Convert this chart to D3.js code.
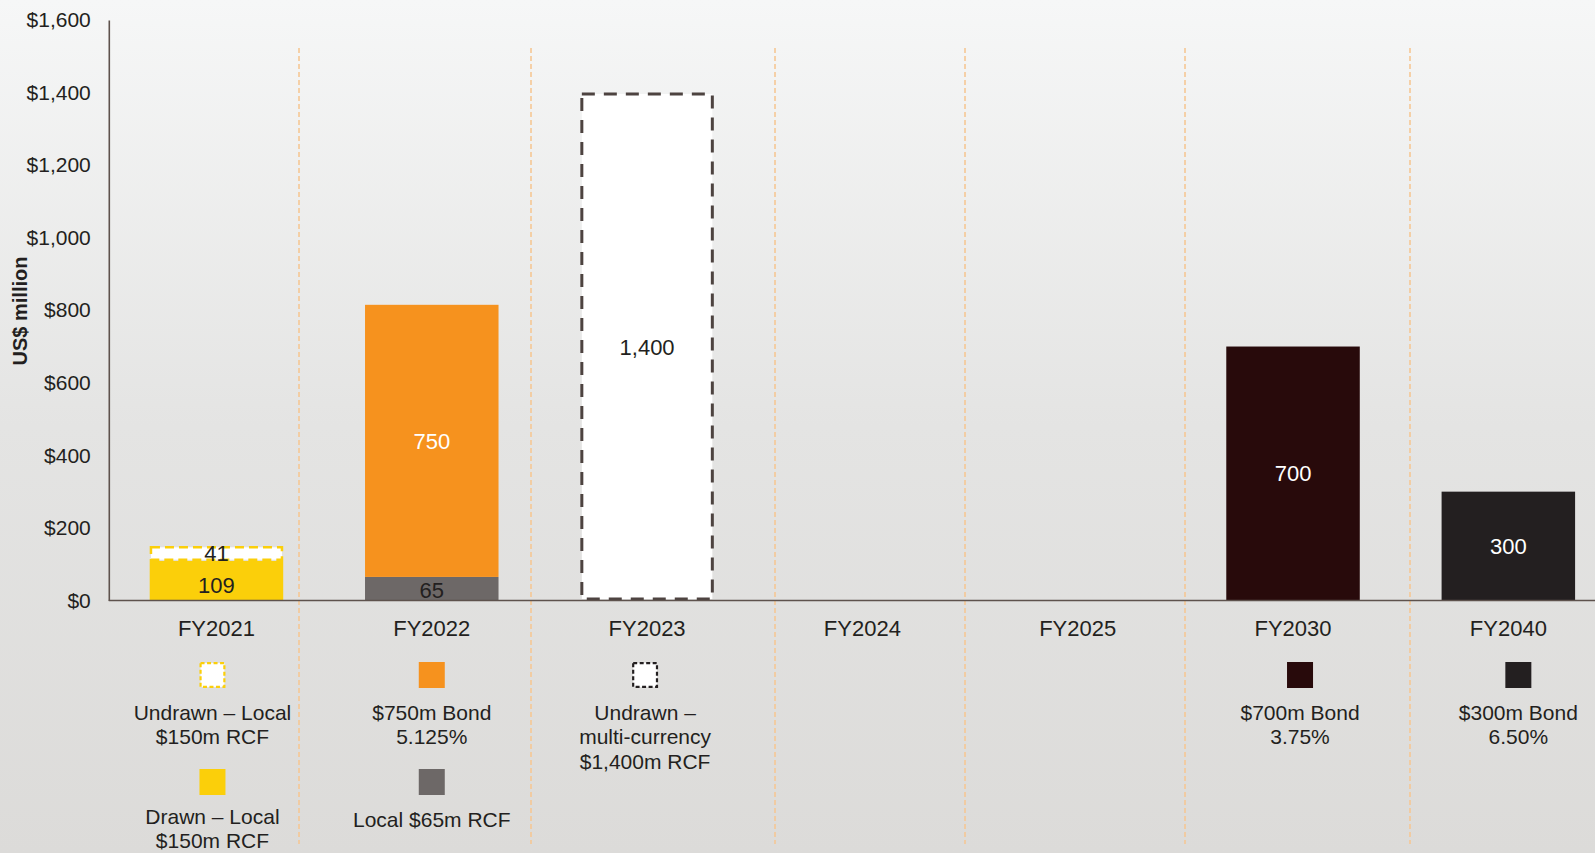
<!DOCTYPE html>
<html>
<head>
<meta charset="utf-8">
<script src="https://cdn.jsdelivr.net/npm/d3@7/dist/d3.min.js"></script>
<style>
  html, body { margin: 0; padding: 0; overflow: hidden; }
  body { width: 1595px; height: 853px; }
  svg { display: block; font-family: "Liberation Sans", Arial, sans-serif; }
</style>
</head>
<body>
<svg id="chart" width="1595" height="853"></svg>
<script>
// Maturity years
const categories = ["FY2021", "FY2022", "FY2023", "FY2024", "FY2025", "FY2030", "FY2040"];

// Facility amounts (US$ million) per maturity year
const drawnLocal150   = [109, 0, 0, 0, 0, 0, 0];
const undrawnLocal150 = [41, 0, 0, 0, 0, 0, 0];
const local65Rcf      = [0, 65, 0, 0, 0, 0, 0];
const bond750         = [0, 750, 0, 0, 0, 0, 0];
const undrawnMulti    = [0, 0, 1400, 0, 0, 0, 0];
const bond700         = [0, 0, 0, 0, 0, 700, 0];
const bond300         = [0, 0, 0, 0, 0, 0, 300];

// Y axis ticks
const yTicks = [0, 200, 400, 600, 800, 1000, 1200, 1400, 1600];

// Legend text (lines) per facility
const legendDrawn150   = ["Drawn – Local", "$150m RCF"];
const legendUndrawn150 = ["Undrawn – Local", "$150m RCF"];
const legendLocal65    = ["Local $65m RCF"];
const legendBond750    = ["$750m Bond", "5.125%"];
const legendUndrawnMc  = ["Undrawn –", "multi-currency", "$1,400m RCF"];
const legendBond700    = ["$700m Bond", "3.75%"];
const legendBond300    = ["$300m Bond", "6.50%"];

// Series definitions in stacking order
const series = [
  { key: "drawn150",   values: drawnLocal150,   fill: "#FBCF0A", stroke: null,      dash: null,   text: "#231F20", nudge: 4, legend: legendDrawn150,   cat: "FY2021", row: 1 },
  { key: "undrawn150", values: undrawnLocal150, fill: "#FFFFFF", stroke: "#FBCF0A", dash: "9,5",  text: "#231F20", nudge: 0, legend: legendUndrawn150, cat: "FY2021", row: 0 },
  { key: "local65",    values: local65Rcf,      fill: "#6D6867", stroke: null,      dash: null,   text: "#231F20", nudge: 1, legend: legendLocal65,    cat: "FY2022", row: 1 },
  { key: "bond750",    values: bond750,         fill: "#F6921E", stroke: null,      dash: null,   text: "#FFFFFF", nudge: 0, legend: legendBond750,    cat: "FY2022", row: 0 },
  { key: "undrawnMc",  values: undrawnMulti,    fill: "#FFFFFF", stroke: "#4D4340", dash: "13,9", text: "#231F20", nudge: 1, legend: legendUndrawnMc,  cat: "FY2023", row: 0 },
  { key: "bond700",    values: bond700,         fill: "#280A0B", stroke: null,      dash: null,   text: "#FFFFFF", nudge: 0, legend: legendBond700,    cat: "FY2030", row: 0 },
  { key: "bond300",    values: bond300,         fill: "#231F20", stroke: null,      dash: null,   text: "#FFFFFF", nudge: 0, legend: legendBond300,    cat: "FY2040", row: 0 }
];

// Layout constants
const W = 1595, H = 853;
const dividerX = [299, 531, 775, 965, 1185, 1410];
const legendShift = { FY2021: -4, FY2022: 0, FY2023: -2, FY2030: 7, FY2040: 10 };

const svg = d3.select("#chart");

// Background gradient
const defs = svg.append("defs");
const grad = defs.append("linearGradient").attr("id", "bg").attr("x1", 0).attr("y1", 0).attr("x2", 0).attr("y2", 1);
grad.append("stop").attr("offset", "0%").attr("stop-color", "#F6F7F7");
grad.append("stop").attr("offset", "50%").attr("stop-color", "#E4E4E3");
grad.append("stop").attr("offset", "100%").attr("stop-color", "#DCDBD9");
svg.append("rect").attr("width", W).attr("height", H).attr("fill", "url(#bg)");

// Scales
const x = d3.scaleBand().domain(categories).range([108.8, 1616]).paddingInner(0.38).paddingOuter(0.19);
const y = d3.scaleLinear().domain([0, 1600]).range([600.5, 20]);

// Column dividers
svg.append("g").selectAll("line").data(dividerX).join("line")
  .attr("x1", d => d).attr("x2", d => d)
  .attr("y1", 48).attr("y2", 844)
  .attr("stroke", "#F5C794").attr("stroke-width", 1.6)
  .attr("stroke-dasharray", "5,3");

// Stack
const table = categories.map((c, i) => {
  const row = { cat: c };
  series.forEach(s => row[s.key] = s.values[i]);
  return row;
});
const stacked = d3.stack().keys(series.map(s => s.key))(table);

const barG = svg.append("g");
stacked.forEach((layer, si) => {
  const s = series[si];
  layer.forEach((d, i) => {
    const v = d[1] - d[0];
    if (v <= 0) return;
    const cx = x(categories[i]);
    const bw = x.bandwidth();
    const sw = s.stroke ? (s.key === "undrawnMc" ? 3 : 2.5) : 0;
    barG.append("rect")
      .attr("x", cx + sw / 2)
      .attr("y", y(d[1]) + sw / 2)
      .attr("width", bw - sw)
      .attr("height", y(d[0]) - y(d[1]) - sw)
      .attr("fill", s.fill)
      .attr("stroke", s.stroke || "none")
      .attr("stroke-width", sw)
      .attr("stroke-dasharray", s.dash);
    barG.append("text")
      .attr("x", cx + bw / 2)
      .attr("y", y((d[0] + d[1]) / 2) + s.nudge)
      .attr("dy", "0.36em")
      .attr("text-anchor", "middle")
      .attr("font-size", 22)
      .attr("fill", s.text)
      .text(d3.format(",")(v));
  });
});

// Axes
const axisColor = "#5E524D";
const yAxis = svg.append("g").attr("transform", "translate(108.8,0)")
  .call(d3.axisLeft(y).tickValues(yTicks).tickSize(0).tickPadding(18).tickFormat(d => "$" + d3.format(",")(d)));
yAxis.select(".domain").attr("stroke", axisColor).attr("stroke-width", 1.6);
yAxis.selectAll("text").attr("font-size", 21).attr("fill", "#231F20").attr("font-family", "Liberation Sans, Arial, sans-serif");

const xAxis = svg.append("g").attr("transform", "translate(0,600.5)")
  .call(d3.axisBottom(x).tickSize(0).tickPadding(20));
xAxis.select(".domain").attr("stroke", axisColor).attr("stroke-width", 1.6).attr("d", "M108.8,0H1616");
xAxis.selectAll("text").attr("font-size", 22).attr("fill", "#231F20").attr("font-family", "Liberation Sans, Arial, sans-serif");

// Y axis title
svg.append("text")
  .attr("transform", "translate(27,311) rotate(-90)")
  .attr("text-anchor", "middle")
  .attr("font-size", 20)
  .attr("font-weight", "bold")
  .attr("fill", "#231F20")
  .text("US$ million");

// Legend under each year
const legendG = svg.append("g");
const rowTop = [662, 769];
const rowTextGap = [50, 47];
series.forEach(s => {
  const cx = x(s.cat) + x.bandwidth() / 2 + (legendShift[s.cat] || 0);
  const top = rowTop[s.row];
  const sw = s.stroke ? 2.2 : 0;
  legendG.append("rect")
    .attr("x", cx - 13 + sw / 2).attr("y", top + sw / 2)
    .attr("width", 26 - sw).attr("height", 26 - sw)
    .attr("fill", s.fill)
    .attr("stroke", s.stroke ? (s.key === "undrawnMc" ? "#231F20" : s.stroke) : "none")
    .attr("stroke-width", sw)
    .attr("stroke-dasharray", s.stroke ? "4,2.5" : null);
  const t = legendG.append("text")
    .attr("text-anchor", "middle")
    .attr("font-size", 21)
    .attr("fill", "#231F20");
  const firstY = top + rowTextGap[s.row] + (s.legend.length === 1 ? 3 : 0);
  s.legend.forEach((line, li) => {
    t.append("tspan").attr("x", cx).attr("y", firstY + li * 24.5).attr("dy", "0.36em").text(line);
  });
});
</script>
</body>
</html>
